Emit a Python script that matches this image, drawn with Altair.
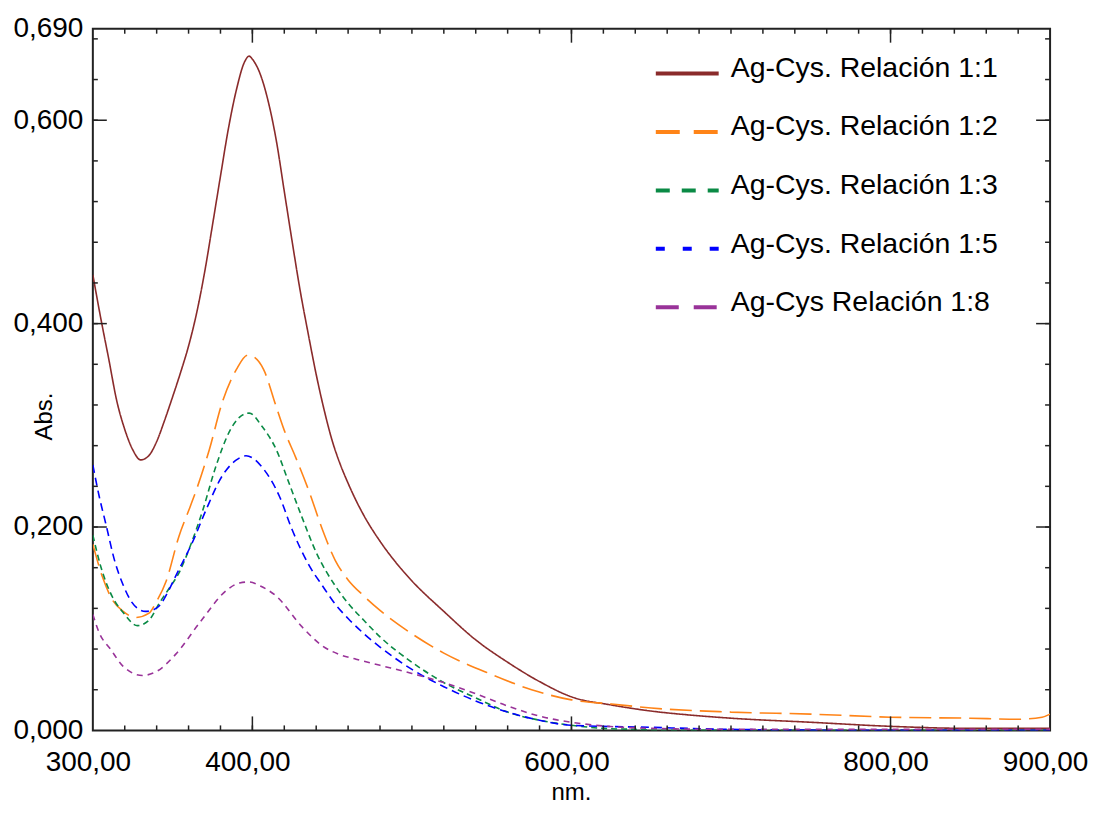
import altair as alt
import pandas as pd

FONT = "Liberation Sans"

series_names = [
    "Ag-Cys. Relación 1:1",
    "Ag-Cys. Relación 1:2",
    "Ag-Cys. Relación 1:3",
    "Ag-Cys. Relación 1:5",
    "Ag-Cys Relación 1:8",
]
series_colors = ["#8a2b2b", "#ff8418", "#0a8a45", "#0000ff", "#993399"]
series_dashes = [[1, 0], [22, 8], [6, 4], [8, 5], [6, 5]]
legend_dashes = [[1, 0], [24, 14], [14, 12], [9, 18], [23, 15]]

wl_11 = [300, 305, 310, 315, 320, 325, 330, 335, 340, 345, 350, 355, 360, 365, 370, 375, 380, 385, 390,
         395, 398, 400, 405, 410, 415, 420, 425, 430, 435, 440, 445, 450, 455, 460, 465, 470, 480, 490,
         500, 520, 540, 560, 580, 600, 625, 650, 675, 700, 750, 800, 850, 900]
abs_11 = [0.448, 0.405, 0.365, 0.324, 0.296, 0.276, 0.266, 0.270, 0.284, 0.305, 0.328, 0.352, 0.378,
          0.410, 0.450, 0.497, 0.545, 0.592, 0.630, 0.657, 0.663, 0.660, 0.645, 0.618, 0.580, 0.530,
          0.480, 0.432, 0.390, 0.350, 0.315, 0.285, 0.262, 0.243, 0.226, 0.211, 0.186, 0.165, 0.147,
          0.117, 0.089, 0.067, 0.048, 0.033, 0.025, 0.019, 0.015, 0.012, 0.008, 0.004, 0.002, 0.002]

wl_12 = [300, 306, 312, 319, 327, 335, 340, 346, 354, 361, 365, 373, 381, 390, 397, 400, 407, 415, 420,
         427, 436, 444, 452, 460, 470, 480, 500, 520, 550, 575, 600, 625, 650, 700, 750, 800, 850, 880,
         895, 900]
abs_12 = [0.183, 0.151, 0.129, 0.117, 0.111, 0.115, 0.127, 0.147, 0.191, 0.220, 0.237, 0.276, 0.322,
          0.355, 0.369, 0.368, 0.355, 0.318, 0.295, 0.269, 0.233, 0.197, 0.167, 0.148, 0.132, 0.118,
          0.095, 0.076, 0.055, 0.040, 0.030, 0.026, 0.022, 0.018, 0.016, 0.013, 0.012, 0.011, 0.013,
          0.016]

wl_13 = [300, 305, 312, 319, 328, 335, 342, 348, 354, 361, 369, 377, 386, 392, 398, 406, 415, 423, 431,
         440, 452, 460, 470, 480, 500, 520, 540, 560, 580, 600, 620, 640, 660, 700, 800, 900]
abs_13 = [0.192, 0.161, 0.132, 0.116, 0.103, 0.108, 0.126, 0.140, 0.155, 0.181, 0.217, 0.259, 0.295,
          0.308, 0.312, 0.299, 0.276, 0.243, 0.210, 0.175, 0.142, 0.125, 0.108, 0.092, 0.067, 0.047,
          0.032, 0.018, 0.010, 0.005, 0.002, 0.001, 0.000, 0.000, 0.000, 0.000]

wl_15 = [300, 304, 308, 314, 319, 324, 329, 333, 337, 342, 347, 352, 363, 371, 381, 390, 396, 400, 406,
         417, 425, 436, 444, 452, 460, 470, 480, 500, 520, 540, 560, 580, 600, 650, 700, 800, 900]
abs_15 = [0.261, 0.230, 0.204, 0.165, 0.143, 0.127, 0.119, 0.117, 0.118, 0.123, 0.136, 0.152, 0.187,
          0.217, 0.250, 0.266, 0.270, 0.268, 0.259, 0.230, 0.197, 0.161, 0.142, 0.124, 0.110, 0.095,
          0.082, 0.060, 0.043, 0.029, 0.018, 0.010, 0.005, 0.003, 0.001, 0.000, 0.000]

wl_18 = [300, 304, 311, 319, 331, 340, 352, 367, 384, 392, 398, 405, 415, 431, 444, 454, 465, 480, 500,
         520, 540, 560, 580, 600, 650, 700, 800, 900]
abs_18 = [0.114, 0.096, 0.080, 0.063, 0.054, 0.058, 0.075, 0.106, 0.138, 0.145, 0.146, 0.142, 0.132,
          0.102, 0.083, 0.075, 0.070, 0.064, 0.056, 0.047, 0.036, 0.024, 0.014, 0.008, 0.002, 0.001,
          0.001, 0.001]

x_label_values = [300, 400, 600, 800, 900]
y_label_values = [0.0, 0.2, 0.4, 0.6, 0.69]
x_minor_ticks = list(range(320, 900, 20))
x_major_ticks = [400, 600, 800]
y_minor_ticks = [round(0.04 * i, 2) for i in range(1, 18)]
y_major_ticks = [0.2, 0.4, 0.6]

rows = []
for name, wl, ab in zip(series_names,
                        [wl_11, wl_12, wl_13, wl_15, wl_18],
                        [abs_11, abs_12, abs_13, abs_15, abs_18]):
    for w, a in zip(wl, ab):
        rows.append({"nm": w, "abs": a, "serie": name})
df = pd.DataFrame(rows)

W, H = 959, 703
xs = alt.Scale(domain=[300, 900], nice=False, zero=False)
ys = alt.Scale(domain=[0, 0.69], nice=False, zero=False)
color_scale = alt.Scale(domain=series_names, range=series_colors)

lines = alt.Chart(df).mark_line(strokeWidth=1.6, interpolate="monotone", clip=True).encode(
    x=alt.X("nm:Q", scale=xs, axis=alt.Axis(
        values=x_label_values, ticks=False, domain=False, grid=False,
        labelExpr="replace(format(datum.value, '.2f'), '.', ',')",
        labelFont=FONT, labelFontSize=28, labelColor="#000", labelPadding=18, labelOffset=-5,
        labelOverlap=False, labelFlush=False,
        title="nm.", titleFont=FONT, titleFontSize=24, titleFontWeight="normal", titleColor="#000",
        titleX=479, titleY=69, titleBaseline="alphabetic", titleAlign="center")),
    y=alt.Y("abs:Q", scale=ys, axis=alt.Axis(
        values=y_label_values, ticks=False, domain=False, grid=False,
        labelExpr="replace(format(datum.value, '.3f'), '.', ',')",
        labelFont=FONT, labelFontSize=28, labelColor="#000", labelPadding=10,
        labelOverlap=False, labelFlush=False,
        title="Abs.", titleFont=FONT, titleFontSize=24, titleFontWeight="normal", titleColor="#000",
        titleAngle=270, titleX=-48, titleY=388, titleBaseline="middle", titleAlign="center")),
    color=alt.Color("serie:N", scale=color_scale, legend=None),
    strokeDash=alt.StrokeDash("serie:N", scale=alt.Scale(domain=series_names, range=series_dashes),
                              legend=None),
    detail="serie:N",
)

# hand-drawn legend (symbols with their own dash patterns)
leg_df = pd.DataFrame({"serie": series_names})
legend_symbols = alt.Chart(leg_df).mark_rule(strokeWidth=4).encode(
    x=alt.value(564), x2=alt.value(627),
    y=alt.Y("serie:N", scale=alt.Scale(type="point", domain=series_names, range=[45, 279], padding=0),
            axis=None),
    color=alt.Color("serie:N", scale=color_scale, legend=None),
    strokeDash=alt.StrokeDash("serie:N", scale=alt.Scale(domain=series_names, range=legend_dashes),
                              legend=None),
)
legend_texts = alt.Chart(leg_df).mark_text(
    align="left", baseline="middle", font=FONT, fontSize=28.5, color="#000").encode(
    x=alt.value(639),
    y=alt.Y("serie:N", scale=alt.Scale(type="point", domain=series_names, range=[39, 274], padding=0),
            axis=None),
    text="serie:N",
)

tick_col = "#222"
xminor = pd.DataFrame({"v": x_minor_ticks})
xmajor = pd.DataFrame({"v": x_major_ticks})
yminor = pd.DataFrame({"v": y_minor_ticks})
ymajor = pd.DataFrame({"v": y_major_ticks})


def xtick_layers(data, length):
    bottom = alt.Chart(data).mark_rule(color=tick_col, strokeWidth=1.5).encode(
        x=alt.X("v:Q", scale=xs, axis=None), y=alt.value(H), y2=alt.value(H - length))
    top = alt.Chart(data).mark_rule(color=tick_col, strokeWidth=1.5).encode(
        x=alt.X("v:Q", scale=xs, axis=None), y=alt.value(0), y2=alt.value(length))
    return [bottom, top]


def ytick_layers(data, length):
    left = alt.Chart(data).mark_rule(color=tick_col, strokeWidth=1.5).encode(
        y=alt.Y("v:Q", scale=ys, axis=None), x=alt.value(0), x2=alt.value(length))
    right = alt.Chart(data).mark_rule(color=tick_col, strokeWidth=1.5).encode(
        y=alt.Y("v:Q", scale=ys, axis=None), x=alt.value(W), x2=alt.value(W - length))
    return [left, right]


layers = [lines]
layers += xtick_layers(xminor, 5) + xtick_layers(xmajor, 14)
layers += ytick_layers(yminor, 5) + ytick_layers(ymajor, 14)
layers += [legend_symbols, legend_texts]

chart = alt.layer(*layers).resolve_axis(
    x="independent", y="independent"
).resolve_scale(
    y="independent", strokeDash="independent"
).properties(
    width=W, height=H,
    autosize=alt.AutoSizeParams(type="none"),
    padding={"left": 85, "top": 20, "right": 40, "bottom": 74},
    background="white",
).configure_view(stroke="#222", strokeWidth=2)

chart.save("out.html", embed_options={"renderer": "svg", "actions": False})
